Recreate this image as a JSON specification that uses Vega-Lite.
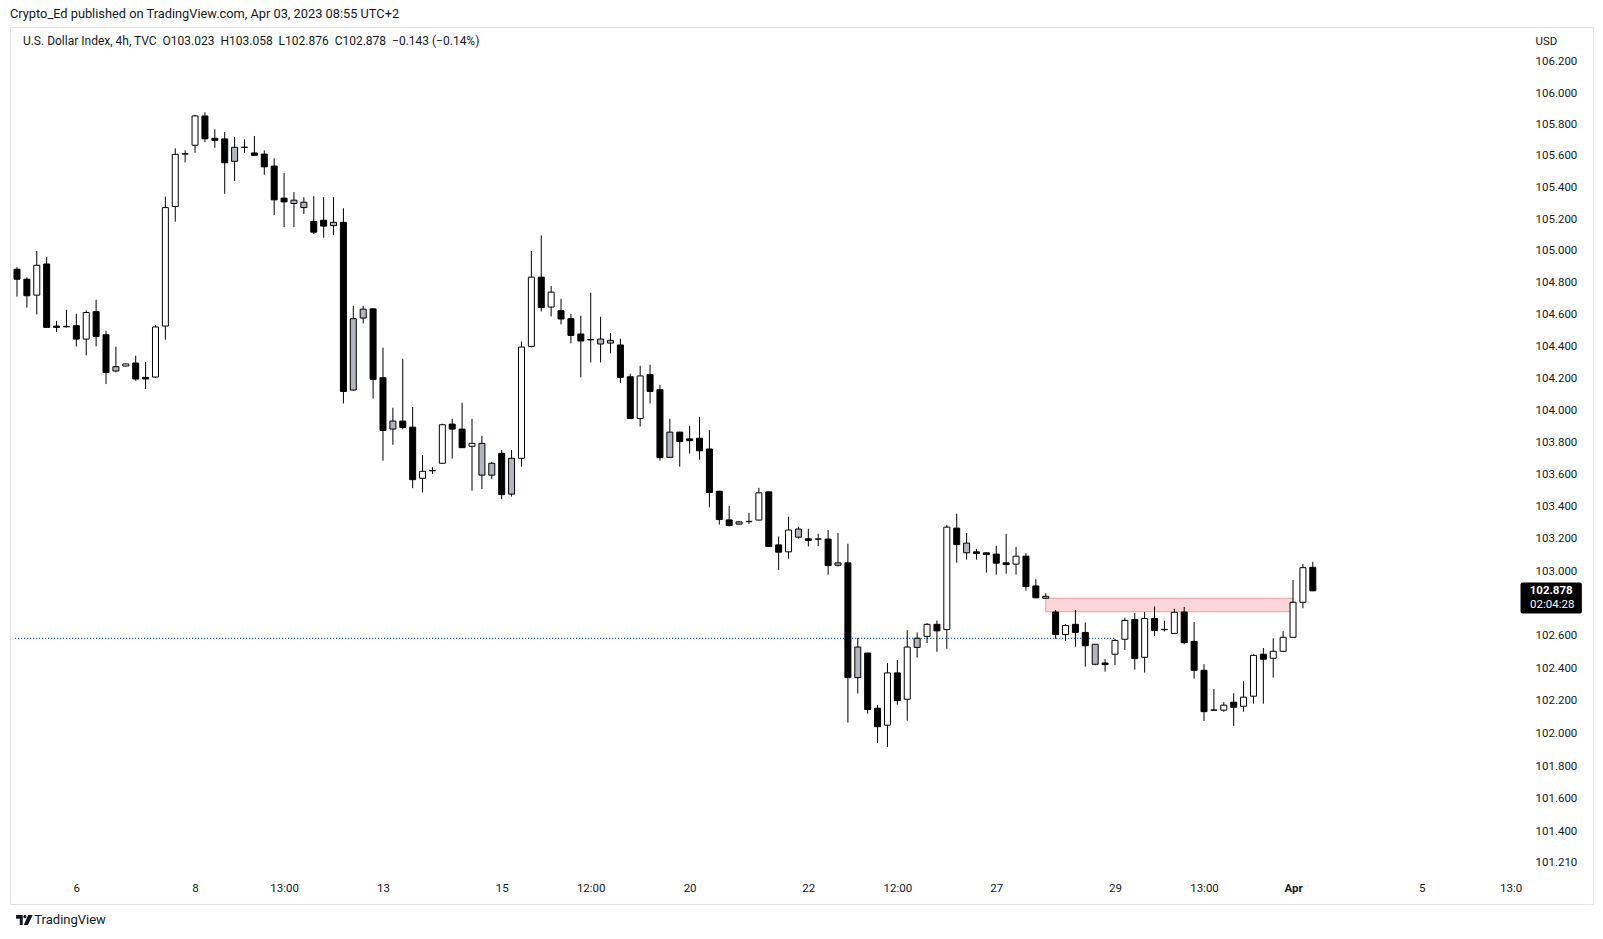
{
  "$schema": "https://vega.github.io/schema/vega-lite/v6.json",
  "width": 1583,
  "height": 877,
  "autosize": "none",
  "padding": {"left": 10, "top": 27, "right": 10, "bottom": 35},
  "background": "#ffffff",
  "title": {"text": "Crypto_Ed published on TradingView.com, Apr 03, 2023 08:55 UTC+2", "anchor": "start", "frame": "group", "offset": 6, "font": "Roboto", "fontSize": 12.8, "fontWeight": "normal", "color": "#131722"},
  "config": {"view": {"stroke": "#e0e3eb", "strokeWidth": 1}},
  "data": {"values": [{"note": "annotation"}]},
  "datasets": {
    "candles": [
      {"i":0,"o":104.884,"h":104.897,"l":104.712,"c":104.821,"t":"d"},
      {"i":1,"o":104.821,"h":104.834,"l":104.643,"c":104.717,"t":"d"},
      {"i":2,"o":104.721,"h":104.999,"l":104.600,"c":104.909,"t":"u"},
      {"i":3,"o":104.917,"h":104.961,"l":104.515,"c":104.518,"t":"d"},
      {"i":4,"o":104.527,"h":104.560,"l":104.489,"c":104.518,"t":"d"},
      {"i":5,"o":104.522,"h":104.629,"l":104.518,"c":104.525,"t":"u"},
      {"i":6,"o":104.529,"h":104.604,"l":104.399,"c":104.445,"t":"d"},
      {"i":7,"o":104.445,"h":104.625,"l":104.343,"c":104.612,"t":"u"},
      {"i":8,"o":104.617,"h":104.692,"l":104.399,"c":104.462,"t":"d"},
      {"i":9,"o":104.472,"h":104.497,"l":104.163,"c":104.236,"t":"d"},
      {"i":10,"o":104.245,"h":104.397,"l":104.236,"c":104.272,"t":"g"},
      {"i":11,"o":104.276,"h":104.292,"l":104.273,"c":104.289,"t":"u"},
      {"i":12,"o":104.295,"h":104.341,"l":104.184,"c":104.195,"t":"d"},
      {"i":13,"o":104.205,"h":104.301,"l":104.132,"c":104.195,"t":"d"},
      {"i":14,"o":104.207,"h":104.533,"l":104.201,"c":104.521,"t":"u"},
      {"i":15,"o":104.527,"h":105.343,"l":104.441,"c":105.273,"t":"u"},
      {"i":16,"o":105.280,"h":105.648,"l":105.184,"c":105.610,"t":"u"},
      {"i":17,"o":105.612,"h":105.636,"l":105.559,"c":105.614,"t":"u"},
      {"i":18,"o":105.668,"h":105.862,"l":105.620,"c":105.854,"t":"u"},
      {"i":19,"o":105.854,"h":105.877,"l":105.687,"c":105.709,"t":"d"},
      {"i":20,"o":105.712,"h":105.769,"l":105.652,"c":105.699,"t":"d"},
      {"i":21,"o":105.708,"h":105.752,"l":105.360,"c":105.557,"t":"d"},
      {"i":22,"o":105.566,"h":105.720,"l":105.442,"c":105.655,"t":"g"},
      {"i":23,"o":105.654,"h":105.706,"l":105.620,"c":105.656,"t":"u"},
      {"i":24,"o":105.619,"h":105.727,"l":105.602,"c":105.604,"t":"d"},
      {"i":25,"o":105.612,"h":105.636,"l":105.481,"c":105.531,"t":"d"},
      {"i":26,"o":105.536,"h":105.585,"l":105.226,"c":105.322,"t":"d"},
      {"i":27,"o":105.333,"h":105.491,"l":105.150,"c":105.309,"t":"d"},
      {"i":28,"o":105.299,"h":105.371,"l":105.150,"c":105.320,"t":"g"},
      {"i":29,"o":105.273,"h":105.339,"l":105.233,"c":105.307,"t":"g"},
      {"i":30,"o":105.186,"h":105.345,"l":105.106,"c":105.118,"t":"d"},
      {"i":31,"o":105.193,"h":105.339,"l":105.083,"c":105.156,"t":"d"},
      {"i":32,"o":105.159,"h":105.339,"l":105.099,"c":105.180,"t":"g"},
      {"i":33,"o":105.180,"h":105.269,"l":104.042,"c":104.117,"t":"d"},
      {"i":34,"o":104.126,"h":104.654,"l":104.122,"c":104.573,"t":"g"},
      {"i":35,"o":104.577,"h":104.654,"l":104.543,"c":104.633,"t":"g"},
      {"i":36,"o":104.635,"h":104.636,"l":104.073,"c":104.192,"t":"d"},
      {"i":37,"o":104.203,"h":104.391,"l":103.685,"c":103.873,"t":"d"},
      {"i":38,"o":103.882,"h":104.015,"l":103.784,"c":103.932,"t":"g"},
      {"i":39,"o":103.932,"h":104.322,"l":103.880,"c":103.892,"t":"d"},
      {"i":40,"o":103.894,"h":104.019,"l":103.514,"c":103.567,"t":"d"},
      {"i":41,"o":103.576,"h":103.721,"l":103.487,"c":103.619,"t":"u"},
      {"i":42,"o":103.622,"h":103.646,"l":103.603,"c":103.624,"t":"u"},
      {"i":43,"o":103.669,"h":103.915,"l":103.667,"c":103.909,"t":"u"},
      {"i":44,"o":103.913,"h":103.946,"l":103.698,"c":103.882,"t":"d"},
      {"i":45,"o":103.882,"h":104.046,"l":103.764,"c":103.766,"t":"d"},
      {"i":46,"o":103.775,"h":103.946,"l":103.499,"c":103.793,"t":"u"},
      {"i":47,"o":103.595,"h":103.840,"l":103.508,"c":103.793,"t":"g"},
      {"i":48,"o":103.595,"h":103.677,"l":103.570,"c":103.669,"t":"g"},
      {"i":49,"o":103.731,"h":103.752,"l":103.446,"c":103.474,"t":"d"},
      {"i":50,"o":103.477,"h":103.752,"l":103.462,"c":103.700,"t":"g"},
      {"i":51,"o":103.700,"h":104.429,"l":103.648,"c":104.395,"t":"u"},
      {"i":52,"o":104.399,"h":104.999,"l":104.393,"c":104.834,"t":"u"},
      {"i":53,"o":104.834,"h":105.097,"l":104.618,"c":104.643,"t":"d"},
      {"i":54,"o":104.646,"h":104.779,"l":104.587,"c":104.740,"t":"u"},
      {"i":55,"o":104.623,"h":104.698,"l":104.537,"c":104.571,"t":"d"},
      {"i":56,"o":104.573,"h":104.604,"l":104.418,"c":104.468,"t":"d"},
      {"i":57,"o":104.477,"h":104.591,"l":104.205,"c":104.433,"t":"d"},
      {"i":58,"o":104.440,"h":104.736,"l":104.299,"c":104.442,"t":"u"},
      {"i":59,"o":104.414,"h":104.585,"l":104.299,"c":104.445,"t":"g"},
      {"i":60,"o":104.420,"h":104.483,"l":104.355,"c":104.437,"t":"g"},
      {"i":61,"o":104.408,"h":104.447,"l":104.170,"c":104.205,"t":"d"},
      {"i":62,"o":104.209,"h":104.228,"l":103.946,"c":103.948,"t":"d"},
      {"i":63,"o":103.948,"h":104.278,"l":103.898,"c":104.214,"t":"u"},
      {"i":64,"o":104.222,"h":104.284,"l":104.042,"c":104.117,"t":"d"},
      {"i":65,"o":104.128,"h":104.159,"l":103.685,"c":103.704,"t":"d"},
      {"i":66,"o":103.706,"h":103.946,"l":103.704,"c":103.863,"t":"g"},
      {"i":67,"o":103.863,"h":103.865,"l":103.648,"c":103.804,"t":"d"},
      {"i":68,"o":103.821,"h":103.902,"l":103.729,"c":103.810,"t":"d"},
      {"i":69,"o":103.825,"h":103.959,"l":103.691,"c":103.747,"t":"d"},
      {"i":70,"o":103.758,"h":103.877,"l":103.394,"c":103.487,"t":"d"},
      {"i":71,"o":103.495,"h":103.497,"l":103.288,"c":103.319,"t":"d"},
      {"i":72,"o":103.317,"h":103.404,"l":103.276,"c":103.282,"t":"d"},
      {"i":73,"o":103.291,"h":103.311,"l":103.285,"c":103.305,"t":"g"},
      {"i":74,"o":103.306,"h":103.361,"l":103.291,"c":103.308,"t":"u"},
      {"i":75,"o":103.316,"h":103.516,"l":103.314,"c":103.485,"t":"u"},
      {"i":76,"o":103.491,"h":103.493,"l":103.150,"c":103.152,"t":"d"},
      {"i":77,"o":103.162,"h":103.214,"l":103.007,"c":103.117,"t":"d"},
      {"i":78,"o":103.119,"h":103.336,"l":103.077,"c":103.254,"t":"u"},
      {"i":79,"o":103.210,"h":103.274,"l":103.201,"c":103.260,"t":"g"},
      {"i":80,"o":103.200,"h":103.262,"l":103.152,"c":103.189,"t":"d"},
      {"i":81,"o":103.197,"h":103.231,"l":103.154,"c":103.199,"t":"u"},
      {"i":82,"o":103.198,"h":103.254,"l":102.978,"c":103.034,"t":"d"},
      {"i":83,"o":103.036,"h":103.235,"l":103.028,"c":103.051,"t":"g"},
      {"i":84,"o":103.051,"h":103.169,"l":102.067,"c":102.343,"t":"d"},
      {"i":85,"o":102.343,"h":102.587,"l":102.245,"c":102.531,"t":"g"},
      {"i":86,"o":102.494,"h":102.496,"l":102.122,"c":102.147,"t":"d"},
      {"i":87,"o":102.155,"h":102.175,"l":101.942,"c":102.042,"t":"d"},
      {"i":88,"o":102.051,"h":102.433,"l":101.918,"c":102.372,"t":"u"},
      {"i":89,"o":102.372,"h":102.452,"l":102.177,"c":102.202,"t":"d"},
      {"i":90,"o":102.210,"h":102.635,"l":102.079,"c":102.531,"t":"u"},
      {"i":91,"o":102.529,"h":102.621,"l":102.466,"c":102.585,"t":"g"},
      {"i":92,"o":102.597,"h":102.679,"l":102.556,"c":102.671,"t":"u"},
      {"i":93,"o":102.671,"h":102.695,"l":102.502,"c":102.631,"t":"d"},
      {"i":94,"o":102.639,"h":103.286,"l":102.521,"c":103.272,"t":"u"},
      {"i":95,"o":103.266,"h":103.355,"l":103.053,"c":103.164,"t":"d"},
      {"i":96,"o":103.113,"h":103.235,"l":103.071,"c":103.173,"t":"g"},
      {"i":97,"o":103.119,"h":103.138,"l":103.071,"c":103.108,"t":"d"},
      {"i":98,"o":103.113,"h":103.114,"l":102.991,"c":103.102,"t":"d"},
      {"i":99,"o":103.105,"h":103.156,"l":102.978,"c":103.049,"t":"d"},
      {"i":100,"o":103.051,"h":103.231,"l":102.984,"c":103.040,"t":"d"},
      {"i":101,"o":103.043,"h":103.150,"l":102.978,"c":103.092,"t":"u"},
      {"i":102,"o":103.092,"h":103.111,"l":102.879,"c":102.904,"t":"d"},
      {"i":103,"o":102.908,"h":102.950,"l":102.832,"c":102.835,"t":"d"},
      {"i":104,"o":102.832,"h":102.863,"l":102.830,"c":102.844,"t":"g"},
      {"i":105,"o":102.747,"h":102.759,"l":102.582,"c":102.608,"t":"d"},
      {"i":106,"o":102.608,"h":102.672,"l":102.568,"c":102.664,"t":"u"},
      {"i":107,"o":102.671,"h":102.759,"l":102.533,"c":102.621,"t":"d"},
      {"i":108,"o":102.621,"h":102.683,"l":102.410,"c":102.539,"t":"d"},
      {"i":109,"o":102.425,"h":102.549,"l":102.419,"c":102.548,"t":"g"},
      {"i":110,"o":102.433,"h":102.458,"l":102.380,"c":102.423,"t":"d"},
      {"i":111,"o":102.487,"h":102.582,"l":102.421,"c":102.572,"t":"u"},
      {"i":112,"o":102.579,"h":102.711,"l":102.513,"c":102.695,"t":"u"},
      {"i":113,"o":102.701,"h":102.741,"l":102.392,"c":102.460,"t":"d"},
      {"i":114,"o":102.468,"h":102.747,"l":102.374,"c":102.707,"t":"u"},
      {"i":115,"o":102.707,"h":102.782,"l":102.599,"c":102.633,"t":"d"},
      {"i":116,"o":102.638,"h":102.693,"l":102.627,"c":102.640,"t":"u"},
      {"i":117,"o":102.615,"h":102.767,"l":102.613,"c":102.745,"t":"u"},
      {"i":118,"o":102.747,"h":102.778,"l":102.548,"c":102.558,"t":"d"},
      {"i":119,"o":102.566,"h":102.685,"l":102.337,"c":102.388,"t":"d"},
      {"i":120,"o":102.388,"h":102.425,"l":102.077,"c":102.134,"t":"d"},
      {"i":121,"o":102.143,"h":102.272,"l":102.142,"c":102.144,"t":"u"},
      {"i":122,"o":102.143,"h":102.192,"l":102.133,"c":102.174,"t":"u"},
      {"i":123,"o":102.192,"h":102.247,"l":102.047,"c":102.161,"t":"d"},
      {"i":124,"o":102.167,"h":102.321,"l":102.134,"c":102.223,"t":"u"},
      {"i":125,"o":102.229,"h":102.487,"l":102.183,"c":102.480,"t":"u"},
      {"i":126,"o":102.487,"h":102.525,"l":102.183,"c":102.456,"t":"d"},
      {"i":127,"o":102.462,"h":102.585,"l":102.343,"c":102.505,"t":"u"},
      {"i":128,"o":102.505,"h":102.629,"l":102.503,"c":102.591,"t":"u"},
      {"i":129,"o":102.591,"h":102.945,"l":102.589,"c":102.807,"t":"u"},
      {"i":130,"o":102.807,"h":103.044,"l":102.770,"c":103.021,"t":"u"},
      {"i":131,"o":103.023,"h":103.058,"l":102.876,"c":102.878,"t":"d"}
    ]
  },
  "layer": [
    {
      "mark": {"type": "rect", "fill": "#fcd6d9", "stroke": "#f29aa1", "strokeWidth": 1},
      "encoding": {
        "x": {"datum": 104, "type": "quantitative"},
        "x2": {"datum": 129},
        "y": {"datum": 102.832, "type": "quantitative"},
        "y2": {"datum": 102.749}
      }
    },
    {
      "mark": {"type": "rule", "color": "#2962ff", "strokeWidth": 1.2, "strokeDash": [1.2, 1.8]},
      "encoding": {
        "x": {"datum": -0.2, "type": "quantitative"},
        "x2": {"datum": 111},
        "y": {"datum": 102.585, "type": "quantitative"}
      }
    },
    {
      "data": {"name": "candles"},
      "mark": {"type": "rule", "color": "#000000", "strokeWidth": 1, "clip": true},
      "encoding": {
        "x": {
          "field": "i", "type": "quantitative",
          "scale": {"domain": [-0.201, 158.82], "nice": false, "zero": false},
          "axis": {
            "orient": "bottom", "offset": -29, "title": null, "grid": false, "ticks": false, "domain": false,
            "values": [6, 18, 27, 37, 49, 58, 68, 80, 89, 99, 111, 120, 129, 142, 151],
            "labelExpr": "['6','8','13:00','13','15','12:00','20','22','12:00','27','29','13:00','Apr','5','13:0'][indexof([6,18,27,37,49,58,68,80,89,99,111,120,129,142,151], datum.value)]",
            "labelPadding": 7, "labelFont": "Roboto", "labelFontSize": 11.5, "labelColor": "#131722",
            "labelOverlap": false, "labelFlush": false,
            "labelFontWeight": {"condition": {"test": "datum.value == 129", "value": "bold"}, "value": "normal"}
          }
        },
        "y": {
          "field": "l", "type": "quantitative",
          "scale": {"type": "log", "domain": [100.961, 106.421], "nice": false, "zero": false},
          "axis": {
            "orient": "right", "offset": -68, "grid": false, "ticks": false, "domain": false,
            "values": [101.21, 101.4, 101.6, 101.8, 102.0, 102.2, 102.4, 102.6, 103.0, 103.2, 103.4, 103.6, 103.8, 104.0, 104.2, 104.4, 104.6, 104.8, 105.0, 105.2, 105.4, 105.6, 105.8, 106.0, 106.2],
            "format": ".3f", "labelPadding": 10, "labelAlign": "left", "labelBaseline": "middle",
            "labelFont": "Roboto", "labelFontSize": 11.5, "labelColor": "#131722", "labelOverlap": false, "labelFlush": false,
            "title": "USD", "titleAngle": 0, "titleAlign": "left", "titleBaseline": "middle", "titleX": 10, "titleY": 14,
            "titleFont": "Roboto", "titleFontSize": 11.5, "titleFontWeight": "normal", "titleColor": "#131722"
          }
        },
        "y2": {"field": "h"}
      }
    },
    {
      "data": {"name": "candles"},
      "mark": {"type": "bar", "width": 6, "stroke": "#000000", "strokeWidth": 1, "clip": true},
      "encoding": {
        "x": {"field": "i", "type": "quantitative"},
        "y": {"field": "o", "type": "quantitative"},
        "y2": {"field": "c"},
        "fill": {"field": "t", "type": "nominal", "scale": {"domain": ["u", "d", "g"], "range": ["#ffffff", "#000000", "#b2b5be"]}, "legend": null}
      }
    },
    {
      "mark": {"type": "text", "align": "left", "baseline": "middle", "font": "Roboto", "fontSize": 12, "color": "#131722"},
      "encoding": {
        "x": {"datum": 0.6, "type": "quantitative"},
        "y": {"datum": 106.332, "type": "quantitative"},
        "text": {"value": "U.S. Dollar Index, 4h, TVC\u00a0\u00a0O103.023\u00a0\u00a0H103.058\u00a0\u00a0L102.876\u00a0\u00a0C102.878\u00a0\u00a0\u22120.143 (\u22120.14%)"}
      }
    },
    {
      "mark": {"type": "text", "align": "left", "baseline": "middle", "font": "Roboto", "fontSize": 13, "color": "#131722"},
      "encoding": {
        "x": {"datum": 1.75, "type": "quantitative"},
        "y": {"datum": 100.864, "type": "quantitative"},
        "text": {"value": "TradingView"}
      }
    },
    {
      "mark": {"type": "point", "filled": true, "color": "#131722", "opacity": 1, "size": 280, "strokeWidth": 0,
        "shape": "M-1,-0.6 H-0.2 V0.6 H-0.55 V-0.15 H-1 Z M-0.13,-0.4 A0.19,0.19 0 1,0 0.25,-0.4 A0.19,0.19 0 1,0 -0.13,-0.4 Z M0.45,-0.6 H1 L0.42,0.6 H-0.08 Z"},
      "encoding": {
        "x": {"datum": 0.75, "type": "quantitative"},
        "y": {"datum": 100.864, "type": "quantitative"}
      }
    },
    {
      "mark": {"type": "rect", "fill": "#000000", "cornerRadius": 2},
      "encoding": {
        "x": {"datum": 152.0, "type": "quantitative"},
        "x2": {"datum": 158.2},
        "y": {"datum": 102.929, "type": "quantitative"},
        "y2": {"datum": 102.738}
      }
    },
    {
      "mark": {"type": "text", "align": "center", "baseline": "middle", "font": "Roboto", "fontSize": 11.5, "fontWeight": "bold", "color": "#ffffff"},
      "encoding": {
        "x": {"datum": 155.1, "type": "quantitative"},
        "y": {"datum": 102.879, "type": "quantitative"},
        "text": {"value": "102.878"}
      }
    },
    {
      "mark": {"type": "text", "align": "center", "baseline": "middle", "font": "Roboto", "fontSize": 11.5, "color": "#ffffff"},
      "encoding": {
        "x": {"datum": 155.2, "type": "quantitative"},
        "y": {"datum": 102.790, "type": "quantitative"},
        "text": {"value": "02:04:28"}
      }
    }
  ]
}
